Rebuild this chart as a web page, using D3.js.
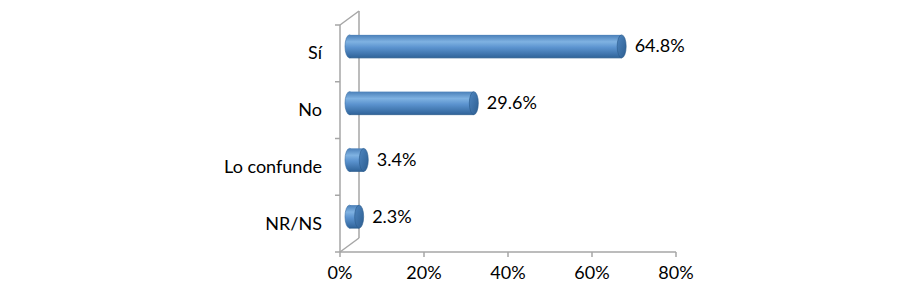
<!DOCTYPE html>
<html>
<head>
<meta charset="utf-8">
<script src="https://cdnjs.cloudflare.com/ajax/libs/d3/7.8.5/d3.min.js"></script>
<style>
  body { margin: 0; background: #fff; }
  text { font-family: Lato, "Open Sans", sans-serif; fill: #000; }
</style>
</head>
<body>
<div id="chart"></div>
<script>
var categories = ["Sí", "No", "Lo confunde", "NR/NS"];
var values = [64.8, 29.6, 3.4, 2.3];
var ticks = [0, 20, 40, 60, 80];

var width = 900, height = 290;
var depthX = 19, depthY = -14;   // 3d wall offset

var svg = d3.select("#chart").append("svg")
    .attr("width", width)
    .attr("height", height);

var x = d3.scaleLinear().domain([0, 80]).range([340, 676]);
var y = d3.scaleBand().domain(categories).range([25, 252]);

var defs = svg.append("defs");
var body = defs.append("linearGradient")
    .attr("id", "body").attr("x1", 0).attr("y1", 0).attr("x2", 0).attr("y2", 1);
body.append("stop").attr("offset", "0%").attr("stop-color", "#4a7fb8");
body.append("stop").attr("offset", "30%").attr("stop-color", "#7fb2e2");
body.append("stop").attr("offset", "55%").attr("stop-color", "#5b93cf");
body.append("stop").attr("offset", "100%").attr("stop-color", "#2f6399");
var cap = defs.append("linearGradient")
    .attr("id", "cap").attr("x1", 0).attr("y1", 0).attr("x2", 1).attr("y2", 1);
cap.append("stop").attr("offset", "0%").attr("stop-color", "#4f86c0");
cap.append("stop").attr("offset", "100%").attr("stop-color", "#2c5d90");

var axisColor = "#a6a6a6";
var g = svg.append("g");

// walls
g.append("line").attr("x1", x(0)).attr("y1", y.range()[0])
  .attr("x2", x(0)).attr("y2", y.range()[1]);
g.append("line").attr("x1", x(0) + depthX).attr("y1", y.range()[0] + depthY)
  .attr("x2", x(0) + depthX).attr("y2", y.range()[1] + depthY);
g.append("line").attr("x1", x(0)).attr("y1", y.range()[0])
  .attr("x2", x(0) + depthX).attr("y2", y.range()[0] + depthY);
g.append("line").attr("x1", x(0)).attr("y1", y.range()[1])
  .attr("x2", x(0) + depthX).attr("y2", y.range()[1] + depthY);
g.append("line").attr("x1", x(0)).attr("y1", y.range()[1])
  .attr("x2", x(80)).attr("y2", y.range()[1]);
g.selectAll("line").attr("stroke", axisColor).attr("stroke-width", 1.5);

// left ticks at band edges
var edges = categories.map(function(c) { return y(c); }).concat([y.range()[1]]);
g.selectAll(".ltick").data(edges).enter().append("line")
  .attr("x1", x(0) - 5).attr("x2", x(0))
  .attr("y1", function(d) { return d; }).attr("y2", function(d) { return d; })
  .attr("stroke", axisColor).attr("stroke-width", 1.5);

// bottom ticks
g.selectAll(".btick").data(ticks).enter().append("line")
  .attr("x1", function(d) { return x(d); }).attr("x2", function(d) { return x(d); })
  .attr("y1", y.range()[1]).attr("y2", y.range()[1] + 5)
  .attr("stroke", axisColor).attr("stroke-width", 1.5);

g.selectAll(".blabel").data(ticks).enter().append("text")
  .attr("x", function(d) { return x(d); })
  .attr("y", 279)
  .attr("text-anchor", "middle")
  .attr("font-size", "18px")
  .text(function(d) { return d + "%"; });

// category labels
g.selectAll(".clabel").data(categories).enter().append("text")
  .attr("x", 322)
  .attr("y", function(d) { return y(d) + y.bandwidth() / 2 + 6; })
  .attr("text-anchor", "end")
  .attr("font-size", "18px")
  .text(function(d) { return d; });

// cylinders
var rx = 4.5, ry = 11.5;
var bars = g.selectAll(".bar").data(values).enter().append("g");
function cy(i) { return y(categories[i]) + y.bandwidth() / 2 + depthY / 2; }
function cx(v) { return x(v) + depthX / 2; }

bars.append("ellipse")
  .attr("cx", function() { return cx(0); })
  .attr("cy", function(d, i) { return cy(i); })
  .attr("rx", rx).attr("ry", ry)
  .attr("fill", "url(#body)").attr("stroke", "#3a6ea5").attr("stroke-width", 0.6);
bars.append("rect")
  .attr("x", function() { return cx(0); })
  .attr("y", function(d, i) { return cy(i) - ry; })
  .attr("width", function(d) { return cx(d) - cx(0); })
  .attr("height", ry * 2)
  .attr("fill", "url(#body)");
bars.append("path")
  .attr("d", function(d, i) {
    return "M" + cx(0) + "," + (cy(i) + ry) + "L" + cx(d) + "," + (cy(i) + ry);
  })
  .attr("stroke", "#2a5a8c").attr("stroke-width", 0.8);
bars.append("ellipse")
  .attr("cx", function(d) { return cx(d); })
  .attr("cy", function(d, i) { return cy(i); })
  .attr("rx", rx).attr("ry", ry)
  .attr("fill", "url(#cap)").attr("stroke", "#2a5a8c").attr("stroke-width", 0.6);

bars.append("text")
  .attr("x", function(d) { return cx(d) + 13; })
  .attr("y", function(d, i) { return cy(i) + 6; })
  .attr("font-size", "18px")
  .text(function(d) { return d.toFixed(1) + "%"; });
</script>
</body>
</html>
